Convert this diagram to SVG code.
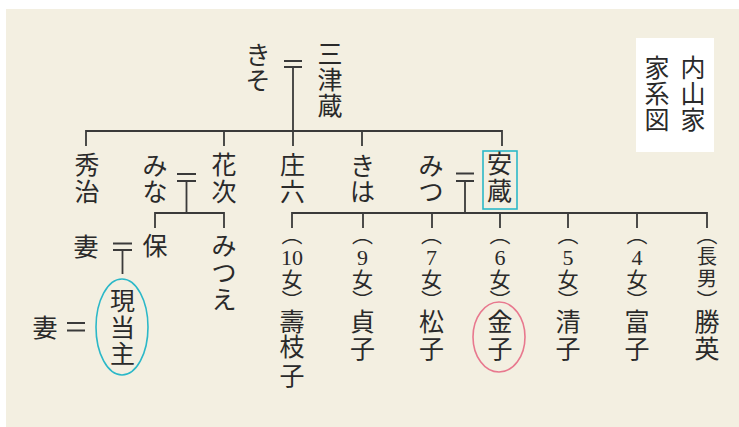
<svg xmlns="http://www.w3.org/2000/svg" width="739" height="427" viewBox="0 0 739 427">
<style>
.n{font-family:"Noto Sans CJK JP","Noto Sans CJK SC",sans-serif;font-size:25px;fill:#2a2a2a;text-anchor:middle}
.p{font-size:21px}
.s{font-size:20px}
.d{font-family:"Liberation Serif",serif;font-size:22px}
.l{stroke:#3a3a3a;stroke-width:1.8;fill:none}
</style>
<rect x="6" y="9" width="733" height="418" fill="#f3efe1"/>
<g id="title">
<rect x="636" y="38" width="78" height="114" fill="#ffffff"/>
<text class="n"><tspan x="693" y="77">内</tspan><tspan x="693" y="103">山</tspan><tspan x="693" y="129">家</tspan></text>
<text class="n"><tspan x="657" y="77">家</tspan><tspan x="657" y="103">系</tspan><tspan x="657" y="129">図</tspan></text>
</g>
<g id="connectors">
<path class="l" d="M284 61H302M284 67H302M293 67V131"/>
<path class="l" d="M86 146V131H502V146M224 131V146M293 131V146M362 131V146"/>
<path class="l" d="M177 174H196M177 181H196M186.5 181V213M155 228V213H224V228"/>
<path class="l" d="M456 173.5H474M456 181H474M465 181V213M292 228V213H707V228M363 213V228M432 213V228M500 213V228M568 213V228M637 213V228"/>
<path class="l" d="M113 243.5H132M113 250H132M122.5 250V274"/>
<path class="l" d="M67 323H85M67 330.5H85"/>
</g>
<g id="kiso"><text class="n"><tspan x="258" y="63.5">き</tspan><tspan x="258" y="89.5">そ</tspan></text></g>
<g id="mitsuzo"><text class="n"><tspan x="330" y="62.5">三</tspan><tspan x="330" y="89">津</tspan><tspan x="330" y="115">蔵</tspan></text></g>
<g id="hideji"><text class="n"><tspan x="87" y="173.5">秀</tspan><tspan x="87" y="201">治</tspan></text></g>
<g id="mina"><text class="n"><tspan x="155" y="174.5">み</tspan><tspan x="155" y="200.5">な</tspan></text></g>
<g id="hanaji"><text class="n"><tspan x="224" y="173.5">花</tspan><tspan x="224" y="201">次</tspan></text></g>
<g id="shoroku"><text class="n"><tspan x="292.5" y="173.5">庄</tspan><tspan x="292.5" y="201">六</tspan></text></g>
<g id="kiha"><text class="n"><tspan x="362.5" y="174.5">き</tspan><tspan x="362.5" y="200.5">は</tspan></text></g>
<g id="mitsu"><text class="n"><tspan x="431" y="174.5">み</tspan><tspan x="431" y="200.5">つ</tspan></text></g>
<g id="yasuzo">
<rect x="483" y="151" width="34" height="58" fill="none" stroke="#2bb8c8" stroke-width="1.6"/>
<text class="n"><tspan x="499.5" y="172.5">安</tspan><tspan x="499.5" y="200">蔵</tspan></text>
</g>
<g id="tsuma1"><text class="n" x="86" y="255.5">妻</text></g>
<g id="tamotsu"><text class="n" x="155" y="254.5">保</text></g>
<g id="mitsue"><text class="n"><tspan x="224" y="254.5">み</tspan><tspan x="224" y="281.5">つ</tspan><tspan x="224" y="308.5">え</tspan></text></g>
<g id="tsuma2"><text class="n" x="45" y="336.5">妻</text></g>
<g id="gentoshu">
<ellipse cx="122" cy="327" rx="26" ry="48" fill="none" stroke="#2bb8c8" stroke-width="1.6"/>
<text class="n"><tspan x="122.5" y="309.5">現</tspan><tspan x="122.5" y="336.5">当</tspan><tspan x="122.5" y="363">主</tspan></text>
</g>
<g id="c10">
<text class="n"><tspan class="p" x="292" y="242">︵</tspan><tspan class="d" x="292" y="265">10</tspan><tspan class="p" x="292" y="287">女</tspan><tspan class="p" x="292" y="308">︶</tspan><tspan x="292" y="331">壽</tspan><tspan x="292" y="356">枝</tspan><tspan x="292" y="384.5">子</tspan></text>
</g>
<g id="c9">
<text class="n"><tspan class="p" x="362.5" y="242">︵</tspan><tspan class="d" x="362.5" y="265">9</tspan><tspan class="p" x="362.5" y="287">女</tspan><tspan class="p" x="362.5" y="308">︶</tspan><tspan x="362.5" y="331">貞</tspan><tspan x="362.5" y="357.5">子</tspan></text>
</g>
<g id="c7">
<text class="n"><tspan class="p" x="431.5" y="242">︵</tspan><tspan class="d" x="431.5" y="265">7</tspan><tspan class="p" x="431.5" y="287">女</tspan><tspan class="p" x="431.5" y="308">︶</tspan><tspan x="431.5" y="331">松</tspan><tspan x="431.5" y="357.5">子</tspan></text>
</g>
<g id="c6">
<ellipse cx="499" cy="337" rx="26" ry="35" fill="none" stroke="#e8788e" stroke-width="1.6"/>
<text class="n"><tspan class="p" x="500" y="242">︵</tspan><tspan class="d" x="500" y="265">6</tspan><tspan class="p" x="500" y="287">女</tspan><tspan class="p" x="500" y="308">︶</tspan><tspan x="500" y="331">金</tspan><tspan x="500" y="357.5">子</tspan></text>
</g>
<g id="c5">
<text class="n"><tspan class="p" x="568" y="242">︵</tspan><tspan class="d" x="568" y="265">5</tspan><tspan class="p" x="568" y="287">女</tspan><tspan class="p" x="568" y="308">︶</tspan><tspan x="568" y="331">清</tspan><tspan x="568" y="357.5">子</tspan></text>
</g>
<g id="c4">
<text class="n"><tspan class="p" x="637" y="242">︵</tspan><tspan class="d" x="637" y="265">4</tspan><tspan class="p" x="637" y="287">女</tspan><tspan class="p" x="637" y="308">︶</tspan><tspan x="637" y="331">富</tspan><tspan x="637" y="357.5">子</tspan></text>
</g>
<g id="c1">
<text class="n"><tspan class="p" x="707" y="242">︵</tspan><tspan class="s" x="707" y="264">長</tspan><tspan class="s" x="707" y="286">男</tspan><tspan class="p" x="707" y="308">︶</tspan><tspan x="707" y="331">勝</tspan><tspan x="707" y="357.5">英</tspan></text>
</g>
</svg>
